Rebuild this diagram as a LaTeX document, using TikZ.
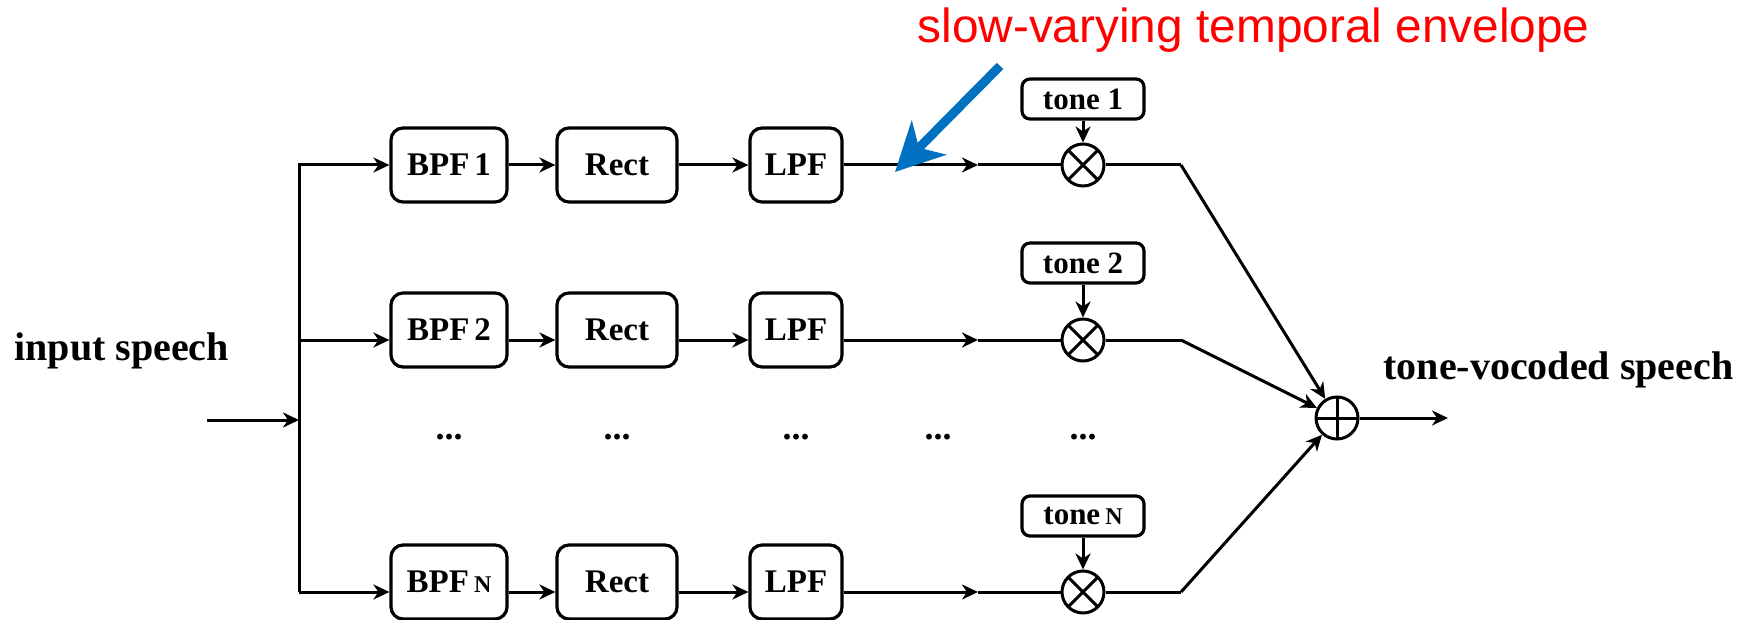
\documentclass[tikz,border=0pt]{standalone}
\usepackage{fontspec}
\setmainfont{Liberation Serif}
\newfontfamily\arialf{Liberation Sans}
\usetikzlibrary{arrows.meta}
\definecolor{redt}{HTML}{FF0000}
\definecolor{bluea}{HTML}{0070C0}
\begin{document}
\begin{tikzpicture}[x=0.5pt,y=-0.5pt,
  line width=1.5pt,
  blk/.style={draw, rounded corners=6pt, line width=1.6pt, minimum height=37pt, inner sep=0pt,
    font=\fontsize{16.5}{17}\selectfont\bfseries},
  tonebox/.style={draw, rounded corners=4pt, line width=1.6pt, minimum width=61pt, minimum height=20pt, inner sep=0pt,
    font=\fontsize{15.5}{16}\selectfont\bfseries},
  mult/.style={draw, circle, line width=1.5pt, minimum size=21pt, inner sep=0pt,
    path picture={\draw[line width=1.5pt] (path picture bounding box.north west) -- (path picture bounding box.south east)
      (path picture bounding box.north east) -- (path picture bounding box.south west);}},
  addc/.style={draw, circle, line width=1.5pt, minimum size=21pt, inner sep=0pt,
    path picture={\draw[line width=1.5pt] (path picture bounding box.north) -- (path picture bounding box.south)
      (path picture bounding box.west) -- (path picture bounding box.east);}},
  arr/.style={-{Stealth[length=8pt,width=7.5pt,inset=2.5pt]}},
  dotsn/.style={font=\fontsize{18}{18}\selectfont\bfseries},
  big/.style={font=\fontsize{20}{22}\selectfont\bfseries, inner sep=0pt}
]
\useasboundingbox (0,0) rectangle (1750,620);

% row line coordinates
\coordinate (t1) at (299,165);
\coordinate (t2) at (299,340);
\coordinate (tN) at (299,592);
\coordinate (ti) at (299,420);
\coordinate (in) at (207,420);

% blocks
\node[blk, minimum width=58pt] (B1) at (449,165) {BPF\hspace{2.5pt}1};
\node[blk, minimum width=60pt] (R1) at (617,165) {Rect};
\node[blk, minimum width=46pt] (L1) at (796,165) {LPF};
\node[blk, minimum width=58pt] (B2) at (449,330) {BPF\hspace{2.5pt}2};
\node[blk, minimum width=60pt] (R2) at (617,330) {Rect};
\node[blk, minimum width=46pt] (L2) at (796,330) {LPF};
\node[blk, minimum width=58pt] (BN) at (449,582) {BPF\hspace{2.5pt}{\fontsize{12}{12}\selectfont N}};
\node[blk, minimum width=60pt] (RN) at (617,582) {Rect};
\node[blk, minimum width=46pt] (LN) at (796,582) {LPF};

% multipliers and tones
\node[mult] (X1) at (1083,165) {};
\node[mult] (X2) at (1083,340) {};
\node[mult] (XN) at (1083,592) {};
\node[tonebox] (T1) at (1083,99) {tone 1};
\node[tonebox] (T2) at (1083,263) {tone 2};
\node[tonebox] (TN) at (1083,516) {tone\hspace{2.5pt}{\fontsize{12}{12}\selectfont N}};
\node[addc] (S) at (1337,418) {};

% mid-arrow and joint coordinates
\coordinate (m1) at (978,165);
\coordinate (m2) at (978,340);
\coordinate (mN) at (978,592);
\coordinate (j1) at (1181,165);
\coordinate (j2) at (1181,340);
\coordinate (jN) at (1181,592);
\coordinate (out) at (1448,418);

% dots
\node[dotsn] (D1) at (449,437) {...};
\node[dotsn] (D2) at (617,437) {...};
\node[dotsn] (D3) at (796,437) {...};
\node[dotsn] (D4) at (938,437) {...};
\node[dotsn] (D5) at (1083,437) {...};

% labels
\node[big, anchor=base west] (inl) at (13,360) {input speech};
\node[big, anchor=base west] (outl) at (1382,379) {tone-vocoded speech};
\node[anchor=base west, inner sep=0pt, text=redt, font=\arialf\fontsize{23.9}{24}\selectfont] (env) at (916,43) {slow-varying temporal envelope};

% input and trunk
\draw[arr] (in) -- (ti);
\draw[arr] (tN) -- (t1) -- (B1.west |- t1);
\draw[arr] (t2) -- (B2.west |- t2);
\draw[arr] (tN) -- (BN.west |- tN);

% chains
\foreach \r in {1,2,N}{
  \draw[arr] (B\r.east |- t\r) -- (R\r.west |- t\r);
  \draw[arr] (R\r.east |- t\r) -- (L\r.west |- t\r);
  \draw[arr] (L\r.east |- t\r) -- (m\r);
  \draw (m\r) -- (X\r.west);
  \draw[arr] (T\r.south) -- (X\r.north);
  \draw (X\r.east) -- (j\r);
  \draw[arr] (j\r) -- (S);
}
\draw[arr] (S) -- (out);

% blue annotation arrow
\coordinate (bt) at (1000,66);
\coordinate (bh) at (895,172);
\draw[bluea, line width=4.5pt, -{Stealth[length=24pt,width=24pt,inset=7pt]}] (bt) -- (bh);
\end{tikzpicture}
\end{document}
